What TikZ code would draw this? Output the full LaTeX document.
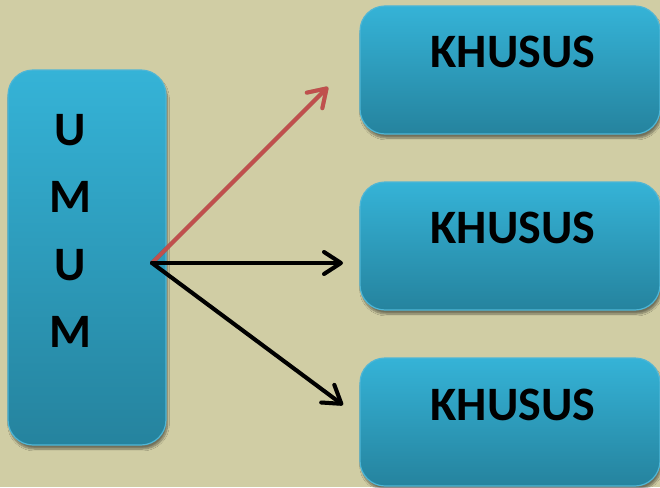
\documentclass[tikz,border=0pt]{standalone}
\usepackage{fontspec}
\setmainfont{Carlito}
\usetikzlibrary{arrows.meta,shadows.blur}

\definecolor{paper}{RGB}{208,205,164}
\definecolor{boxtop}{RGB}{53,179,215}
\definecolor{boxbot}{RGB}{37,131,158}
\definecolor{boxedge}{RGB}{78,182,214}
\definecolor{redarrow}{RGB}{192,80,77}

\tikzset{
  blok/.style={rounded corners=25pt, top color=boxtop, bottom color=boxbot,
    draw=boxedge, line width=1.2pt, inner sep=0pt,
    blur shadow={shadow xshift=1.5pt, shadow yshift=-4pt, shadow opacity=45, shadow blur steps=8}},
  huruf/.style={font=\fontsize{48}{56}\selectfont\bfseries, anchor=base, inner sep=0pt},
  panah/.style={line width=4pt, line cap=round,
    -{Straight Barb[length=17pt,width=22pt,line cap=round,line join=round]}},
  bayang/.style={panah, draw=black, opacity=0.22},
}

\begin{document}
\begin{tikzpicture}[x=1pt, y=-1pt]
\useasboundingbox (0,0) rectangle (660,487);
\clip (0,0) rectangle (660,487);
\fill[paper] (0,0) rectangle (660,487);

% kotak umum
\node[blok, minimum width=158pt, minimum height=375pt] (umum) at (87,257.5) {};
\node[huruf] (u1) at (70,145) {U};
\node[huruf] (m1) at (70,212.5) {M};
\node[huruf] (u2) at (70,280) {U};
\node[huruf] (m2) at (70,347.5) {M};

% kotak khusus
\node[blok, minimum width=300pt, minimum height=128pt] (khusus1) at (510,70) {};
\node[blok, minimum width=300pt, minimum height=128pt] (khusus2) at (510,246) {};
\node[blok, minimum width=300pt, minimum height=128pt] (khusus3) at (510,422) {};
\node[huruf] (t1) at (513,67) {KHUSUS};
\node[huruf] (t2) at (513,243) {KHUSUS};
\node[huruf] (t3) at (513,420) {KHUSUS};

% panah
\coordinate (asal) at (152,263);
\coordinate (ke1) at (328,87);
\coordinate (ke2) at (343,263);
\coordinate (ke3) at (343,405);
\begin{scope}[shift={(2,3)}]
\draw[bayang] (asal) -- (ke1);
\draw[bayang] (asal) -- (ke2);
\draw[bayang] (asal) -- (ke3);
\end{scope}
\draw[panah, redarrow] (asal) -- (ke1);
\draw[panah, black] (asal) -- (ke2);
\draw[panah, black] (asal) -- (ke3);
\end{tikzpicture}
\end{document}
